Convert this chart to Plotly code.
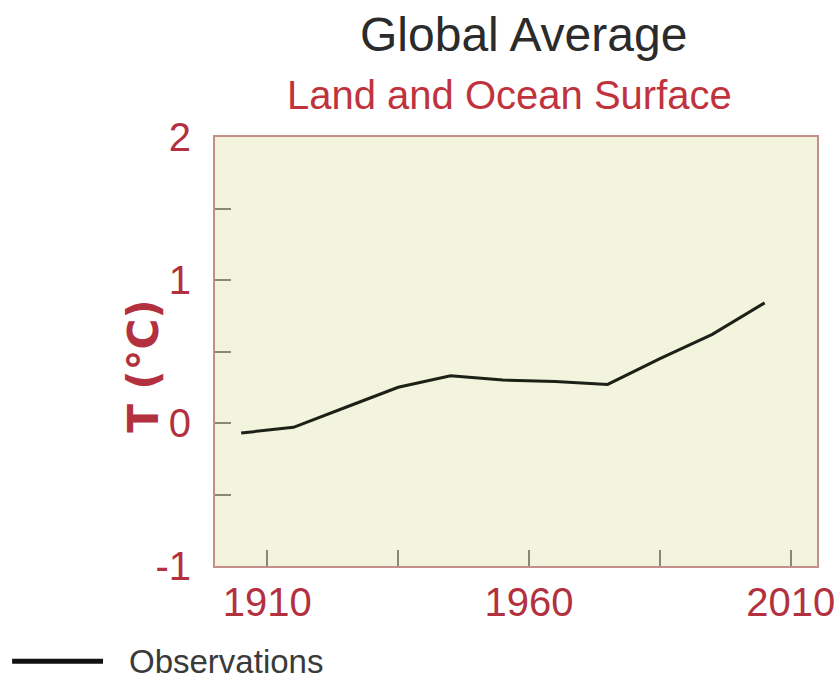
import plotly.graph_objects as go

# Decadal global mean surface temperature anomalies (°C), plotted at decade centres
years = [1905, 1915, 1925, 1935, 1945, 1955, 1965, 1975, 1985, 1995, 2005]
temps = [-0.07, -0.03, 0.11, 0.25, 0.33, 0.30, 0.29, 0.27, 0.45, 0.62, 0.84]

x_label_years = [1910, 1960, 2010]
y_label_vals = [-1, 0, 1, 2]

RED = "#b3313f"
AXIS = "#c48f86"
TICK = "#8c8578"
FONT = "Liberation Sans, Arial, sans-serif"

fig = go.Figure()
fig.add_trace(go.Scatter(
    x=years, y=temps, mode="lines",
    line=dict(color="#1c2118", width=3),
    name="Observations", showlegend=False,
))

fig.update_layout(
    width=839, height=682,
    margin=dict(l=215, r=22, t=137, b=116, autoexpand=False),
    paper_bgcolor="white",
    plot_bgcolor="#f3f4dd",
    font=dict(family=FONT),
)

fig.update_xaxes(
    range=[1900, 2015],
    tickmode="array", tickvals=x_label_years,
    ticktext=[str(v) for v in x_label_years],
    ticks="inside", ticklen=16, tickwidth=1.5, tickcolor=TICK,
    minor=dict(tick0=1910, dtick=25, ticks="inside", ticklen=16,
               tickwidth=1.5, tickcolor=TICK),
    tickfont=dict(size=40, color=RED),
    showgrid=False, zeroline=False, automargin=False,
    showline=True, linecolor=AXIS, linewidth=2, mirror=True,
)
fig.update_yaxes(
    range=[-1, 2],
    tickmode="array", tickvals=y_label_vals,
    ticktext=[str(v) for v in y_label_vals],
    ticks="inside", ticklen=16, tickwidth=1.5, tickcolor=TICK,
    minor=dict(tick0=-1, dtick=0.5, ticks="inside", ticklen=16,
               tickwidth=1.5, tickcolor=TICK),
    tickfont=dict(size=40, color=RED),
    ticklabelstandoff=14,
    showgrid=False, zeroline=False, automargin=False,
    showline=True, linecolor=AXIS, linewidth=2, mirror=True,
)

# Y-axis title, set close to the tick labels
fig.add_annotation(
    text="<b>T (°C)</b>", xref="paper", yref="paper",
    x=-0.12, y=0.466, xanchor="center", yanchor="middle",
    textangle=-90, showarrow=False,
    font=dict(size=42, color=RED, family="DejaVu Sans, sans-serif"),
)

# Titles
fig.add_annotation(
    text="Global Average", xref="paper", yref="paper",
    x=0.512, y=1.172, xanchor="center", yanchor="bottom", showarrow=False,
    font=dict(size=48, color="#2b2b2b"),
)
fig.add_annotation(
    text="Land and Ocean Surface", xref="paper", yref="paper",
    x=0.49, y=1.043, xanchor="center", yanchor="bottom", showarrow=False,
    font=dict(size=40, color="#c0333d"),
)

# Legend key below the chart
fig.add_shape(
    type="line", xref="paper", yref="paper",
    x0=-0.337, x1=-0.186, y0=-0.222, y1=-0.222,
    line=dict(color="#111111", width=5),
)
fig.add_annotation(
    text="Observations", xref="paper", yref="paper",
    x=-0.147, y=-0.222, xanchor="left", yanchor="middle", showarrow=False,
    font=dict(size=33, color="#3a3a3a"),
)

fig.write_html("out.html")
